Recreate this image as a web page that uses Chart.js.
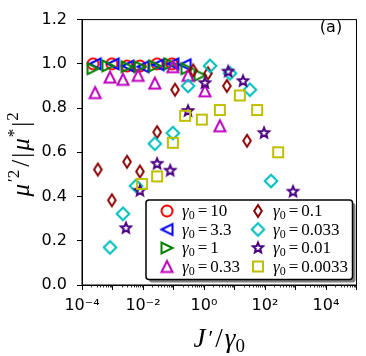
<!DOCTYPE html>
<html>
<head>
<meta charset="utf-8">
<script src="https://cdn.jsdelivr.net/npm/chart.js@4/dist/chart.umd.min.js"></script>
<style>
  html, body { margin: 0; padding: 0; background: #fff; }
  #wrap { width: 366px; height: 356px; }
</style>
</head>
<body>
<div id="wrap"><canvas id="chart" width="366" height="356"></canvas></div>
<script>
// one series per gamma_0
var gammaLabels = ['10', '3.3', '1', '0.33', '0.1', '0.033', '0.01', '0.0033'];
var colors = ['#ff0000', '#0000ff', '#008000', '#bf00bf', '#8b0000', '#00bfbf', '#4b0082', '#bfbf00'];
var shapes = ['circle', 'triLeft', 'triRight', 'triUp', 'thinDiamond', 'diamond', 'star', 'square'];

// J'/gamma_0 (x) and mu'^2/|mu*|^2 (y)
var x10 = [2.3e-4, 9.5e-4, 3.0e-3, 7.9e-3, 0.029, 0.089];
var y10 = [1.0, 1.0, 0.99, 0.99, 1.0, 1.0];
var x3p3 = [2.7e-4, 1.05e-3, 3.2e-3, 0.010, 0.031, 0.095, 0.24];
var y3p3 = [1.0, 1.0, 0.99, 0.987, 0.996, 1.0, 0.996];
var x1 = [2.3e-4, 7.1e-4, 3.0e-3, 7.9e-3, 0.0245, 0.078, 0.275, 0.74];
var y1 = [0.978, 0.991, 0.987, 0.987, 0.991, 1.0, 0.978, 0.948];
var x0p33 = [2.7e-4, 8.3e-4, 2.2e-3, 6.9e-3, 0.0245, 0.095, 0.30, 1.07, 3.3];
var y0p33 = [0.87, 0.94, 0.93, 0.948, 0.913, 0.987, 0.948, 0.878, 0.72];
var x0p1 = [3.3e-4, 9.5e-4, 3.0e-3, 7.9e-3, 0.029, 0.112, 0.44, 1.35, 5.6, 25.7];
var y0p1 = [0.522, 0.383, 0.557, 0.513, 0.691, 0.883, 0.970, 0.957, 0.90, 0.652];
var x0p033 = [8.3e-4, 2.2e-3, 5.9e-3, 0.0245, 0.095, 0.30, 1.58, 7.1, 32, 158];
var y0p033 = [0.17, 0.322, 0.448, 0.639, 0.687, 0.90, 0.991, 0.957, 0.883, 0.47];
var x0p01 = [2.75e-3, 7.9e-3, 0.029, 0.078, 0.30, 1.07, 6.2, 19, 93, 830];
var y0p01 = [0.257, 0.426, 0.548, 0.517, 0.787, 0.913, 0.965, 0.922, 0.687, 0.422];
var x0p0033 = [9.3e-3, 0.029, 0.095, 0.24, 0.85, 3.3, 15, 55, 270];
var y0p0033 = [0.457, 0.491, 0.643, 0.765, 0.748, 0.791, 0.857, 0.791, 0.60];

var xSeries = [x10, x3p3, x1, x0p33, x0p1, x0p033, x0p01, x0p0033];
var ySeries = [y10, y3p3, y1, y0p33, y0p1, y0p033, y0p01, y0p0033];

var xTicks = [1e-4, 1e-3, 1e-2, 1e-1, 1e0, 1e1, 1e2, 1e3, 1e4, 1e5];
var xTickLabels = ['10\u207B\u2074', '', '10\u207B\u00B2', '', '10\u2070', '', '10\u00B2', '', '10\u2074', ''];
var yTicks = [0, 0.2, 0.4, 0.6, 0.8, 1.0, 1.2];

var mathFont = "'Liberation Serif', serif";

// open marker drawn on a small canvas, used as pointStyle
function makeMarker(shape, color) {
    var c = document.createElement('canvas');
    c.width = 20; c.height = 20;
    var ctx = c.getContext('2d');
    ctx.translate(10, 10);
    ctx.strokeStyle = color;
    ctx.lineWidth = 2;
    ctx.beginPath();
    var s = 5.5;
    if (shape === 'circle') {
        ctx.arc(0, 0, 5.5, 0, Math.PI * 2);
    } else if (shape === 'triLeft') {
        ctx.moveTo(-s, 0); ctx.lineTo(s, -s); ctx.lineTo(s, s);
    } else if (shape === 'triRight') {
        ctx.moveTo(s, 0); ctx.lineTo(-s, -s); ctx.lineTo(-s, s);
    } else if (shape === 'triUp') {
        ctx.moveTo(0, -s); ctx.lineTo(-s, s); ctx.lineTo(s, s);
    } else if (shape === 'thinDiamond') {
        ctx.moveTo(0, -6); ctx.lineTo(3.8, 0); ctx.lineTo(0, 6); ctx.lineTo(-3.8, 0);
    } else if (shape === 'diamond') {
        ctx.moveTo(0, -6.3); ctx.lineTo(6.3, 0); ctx.lineTo(0, 6.3); ctx.lineTo(-6.3, 0);
    } else if (shape === 'star') {
        for (var k = 0; k < 10; k++) {
            var r = (k % 2 === 0) ? 5.3 : 2.4;
            var a = -Math.PI / 2 + k * Math.PI / 5;
            if (k === 0) ctx.moveTo(r * Math.cos(a), r * Math.sin(a));
            else ctx.lineTo(r * Math.cos(a), r * Math.sin(a));
        }
    } else if (shape === 'square') {
        ctx.rect(-5, -5, 10, 10);
    }
    ctx.closePath();
    ctx.stroke();
    return c;
}

var markers = shapes.map(function(sh, i) { return makeMarker(sh, colors[i]); });

var datasets = gammaLabels.map(function(lab, i) {
    return {
        label: lab,
        data: xSeries[i].map(function(x, j) { return {x: x, y: ySeries[i][j]}; }),
        pointStyle: markers[i],
        pointRadius: 6,
        showLine: false,
        borderColor: colors[i],
        backgroundColor: 'rgba(0,0,0,0)',
        order: gammaLabels.length - i   // later series on top
    };
});

// text made of runs: [text, font, dy, extraGap]
function runsWidth(ctx, runs) {
    var w = 0;
    runs.forEach(function(r) { ctx.font = r[1]; w += ctx.measureText(r[0]).width + (r[3] || 0); });
    return w;
}
function drawRuns(ctx, runs, x, y) {
    var cx = x;
    runs.forEach(function(r) {
        ctx.font = r[1];
        ctx.fillText(r[0], cx, y + (r[2] || 0));
        cx += ctx.measureText(r[0]).width + (r[3] || 0);
    });
}

var extras = {
    id: 'extras',
    afterDraw: function(chart) {
        var ctx = chart.ctx;
        var area = chart.chartArea;
        var xs = chart.scales.x;
        ctx.save();

        // frame
        ctx.strokeStyle = '#000';
        ctx.lineWidth = 1;
        ctx.strokeRect(area.left, area.top, area.right - area.left, area.bottom - area.top);

        // minor ticks on the log axis
        ctx.beginPath();
        for (var d = -4; d < 5; d++) {
            for (var k = 2; k < 10; k++) {
                var px = Math.round(xs.getPixelForValue(k * Math.pow(10, d))) + 0.5;
                ctx.moveTo(px, area.bottom);
                ctx.lineTo(px, area.bottom + 2.5);
            }
        }
        ctx.lineWidth = 0.8;
        ctx.stroke();

        // panel tag
        ctx.fillStyle = '#000';
        ctx.font = "16px 'DejaVu Sans'";
        ctx.textAlign = 'center';
        ctx.textBaseline = 'middle';
        ctx.fillText('(a)', 331, 28);

        // axis titles
        ctx.textAlign = 'left';
        ctx.textBaseline = 'alphabetic';
        var big = 'italic 27px ' + mathFont;
        var up = '27px ' + mathFont;
        var sup = '22px ' + mathFont;
        var sub = '19px ' + mathFont;
        var xRuns = [['J', big, 0, 3], ['\u2032', sup, -2, 2], ['/', up, 0, 2], ['\u03B3', big, 0, 0], ['0', sub, 5, 0]];
        var xw = runsWidth(ctx, xRuns);
        drawRuns(ctx, xRuns, (area.left + area.right) / 2 - xw / 2, 347);

        var ybig = 'italic 25px ' + mathFont;
        var yup = '25px ' + mathFont;
        var ysup = '17px ' + mathFont;
        var yRuns = [['\u03BC', ybig, 0, 2], ['\u20322', ysup, -10, 3], ['/', yup, 0, 2], ['|', yup, 0, 2],
                     ['\u03BC', ybig, 0, 1], ['*', ysup, -10, 2], ['|', yup, 0, 1], ['2', ysup, -11, 0]];
        var yw = runsWidth(ctx, yRuns);
        ctx.save();
        ctx.translate(29, (area.top + area.bottom) / 2 + 2);
        ctx.rotate(-Math.PI / 2);
        drawRuns(ctx, yRuns, -yw / 2, 0);
        ctx.restore();

        // legend with shadow, two columns
        var bx = 146, by = 200, bw = 206.5, bh = 79.5;
        ctx.fillStyle = 'rgba(0,0,0,0.5)';
        ctx.beginPath();
        ctx.roundRect(bx + 3, by + 3, bw, bh, 3);
        ctx.fill();
        ctx.fillStyle = '#fff';
        ctx.strokeStyle = '#000';
        ctx.lineWidth = 1.5;
        ctx.beginPath();
        ctx.roundRect(bx, by, bw, bh, 3);
        ctx.fill();
        ctx.stroke();

        var rowY = [211, 229.5, 248, 266.5];
        var colM = [167, 258];
        var colT = [182, 273];
        var lg = 'italic 17px ' + mathFont;
        var ln = '17px ' + mathFont;
        var ls = '12px ' + mathFont;
        ctx.fillStyle = '#000';
        for (var i = 0; i < gammaLabels.length; i++) {
            var col = Math.floor(i / 4), row = i % 4;
            ctx.drawImage(markers[i], colM[col] - 10, rowY[row] - 10);
            drawRuns(ctx, [['\u03B3', lg, 0, 0], ['0', ls, 3, 3], ['=', ln, 0, 3], [gammaLabels[i], ln, 0, 0]],
                colT[col], rowY[row] + 5);
        }
        ctx.restore();
    }
};

new Chart(document.getElementById('chart'), {
    type: 'scatter',
    data: { datasets: datasets },
    options: {
        responsive: false,
        animation: false,
        events: [],
        layout: { padding: { left: 0, right: 9.5, top: 9, bottom: 0 } },
        plugins: { legend: { display: false }, tooltip: { enabled: false } },
        scales: {
            x: {
                type: 'logarithmic',
                min: 1e-4,
                max: 1e5,
                afterFit: function(s) { s.height = 71; },
                afterBuildTicks: function(s) { s.ticks = xTicks.map(function(v) { return {value: v}; }); },
                ticks: {
                    autoSkip: false,
                    maxRotation: 0,
                    padding: 6,
                    color: '#000',
                    font: { family: 'DejaVu Sans', size: 16 },
                    callback: function(v, idx) { return xTickLabels[idx]; }
                },
                grid: { drawOnChartArea: false, tickLength: 5, color: '#000' },
                border: { color: '#000' }
            },
            y: {
                min: 0,
                max: 1.2,
                afterFit: function(s) { s.width = 82; },
                afterBuildTicks: function(s) { s.ticks = yTicks.map(function(v) { return {value: v}; }); },
                ticks: {
                    padding: 10,
                    color: '#000',
                    font: { family: 'DejaVu Sans', size: 16 },
                    callback: function(v) { return v.toFixed(1); }
                },
                grid: { drawOnChartArea: false, tickLength: 5, color: '#000' },
                border: { color: '#000' }
            }
        }
    },
    plugins: [extras]
});
</script>
</body>
</html>
